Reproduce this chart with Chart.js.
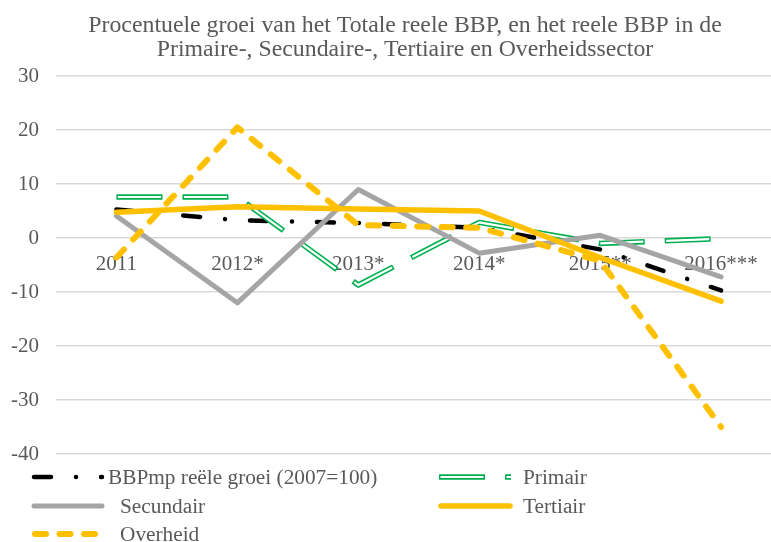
<!DOCTYPE html>
<html>
<head>
<meta charset="utf-8">
<script src="https://cdn.jsdelivr.net/npm/chart.js@4/dist/chart.umd.min.js"></script>
<style>
  html, body { margin: 0; padding: 0; background: #fff; overflow: hidden; }
  #wrap { position: relative; width: 771px; height: 542px; overflow: hidden; }
  #c { position: absolute; left: 0; top: 0; }
  .lg { position: absolute; font-family: 'Liberation Serif', 'Times New Roman', serif; font-size: 21.3px; color: #595959; line-height: 24px; white-space: nowrap; }
  svg.ls { position: absolute; overflow: visible; }
</style>
</head>
<body>
<div id="wrap">
  <canvas id="c" width="810" height="542"></canvas>
  <div id="legend"></div>
</div>
<script>
const categories = ['2011', '2012*', '2013*', '2014*', '2015**', '2016***'];
const bbp = [5.3, 3.3, 2.8, 1.9, -2.1, -9.7];
const primair = [7.6, 7.6, -8.7, 2.9, -1.0, -0.1];
const secundair = [4.1, -12.0, 9.0, -2.8, 0.5, -7.2];
const tertiair = [4.8, 5.8, 5.4, 5.0, -3.6, -11.7];
const overheid = [-3.6, 20.5, 2.4, 1.9, -4.2, -35.0];
const yTicks = [30, 20, 10, 0, -10, -20, -30, -40];
const titleLines = ['Procentuele groei van het Totale reele BBP, en het reele BBP in de', 'Primaire-, Secundaire-, Tertiaire en Overheidssector'];
const legendNames = ['BBPmp reële groei (2007=100)', 'Primair', 'Secundair', 'Tertiair', 'Overheid'];

const GOLD = '#FFC000', GREEN = '#00B050', GRAY = '#A5A5A5', TXT = '#595959';
const FONT = "'Liberation Serif', 'Times New Roman', serif";

new Chart(document.getElementById('c'), {
  type: 'line',
  data: {
    labels: categories,
    datasets: [
      { label: legendNames[0], data: bbp, borderColor: '#000', borderWidth: 4.5, borderDash: [17, 25, 0.01, 25], borderCapStyle: 'round', borderJoinStyle: 'round', order: 10 },
      { label: legendNames[1], data: primair, borderColor: GREEN, borderWidth: 5.5, borderDash: [46, 20], borderCapStyle: 'butt', borderJoinStyle: 'round', order: 9 },
      { label: legendNames[1] + ' (inner)', data: primair, borderColor: '#fff', borderWidth: 2.2, borderDash: [43, 23], borderDashOffset: -1.5, borderCapStyle: 'butt', borderJoinStyle: 'round', order: 8 },
      { label: legendNames[2], data: secundair, borderColor: GRAY, borderWidth: 5, borderCapStyle: 'round', borderJoinStyle: 'round', order: 7 },
      { label: legendNames[3], data: tertiair, borderColor: GOLD, borderWidth: 5.5, borderCapStyle: 'round', borderJoinStyle: 'round', order: 6 },
      { label: legendNames[4], data: overheid, borderColor: GOLD, borderWidth: 6, borderDash: [11, 13.5], borderCapStyle: 'round', borderJoinStyle: 'round', order: 5 }
    ]
  },
  options: {
    responsive: false,
    animation: false,
    devicePixelRatio: 1,
    layout: { padding: { left: 0, right: 0, top: 0, bottom: 88 } },
    elements: { point: { radius: 0, hoverRadius: 0 }, line: { tension: 0, fill: false } },
    plugins: {
      legend: { display: false },
      tooltip: { enabled: false },
      title: {
        display: true,
        text: titleLines,
        color: TXT,
        font: { family: FONT, size: 23.8, weight: 'normal', lineHeight: 1.01 },
        padding: { top: 13.5, bottom: 14.5 }
      }
    },
    scales: {
      x: {
        type: 'category',
        position: { y: 0 },
        offset: true,
        grid: { display: false, drawTicks: false },
        border: { display: false },
        ticks: { color: TXT, font: { family: FONT, size: 21 }, padding: 14, maxRotation: 0, autoSkip: false }
      },
      y: {
        type: 'linear',
        position: 'left',
        min: -40, max: 30,
        afterBuildTicks: s => { s.ticks = yTicks.map(v => ({ value: v })); },
        afterFit: s => { s.width = 56; },
        grid: { color: '#D9D9D9', lineWidth: 1.5, drawTicks: false },
        border: { display: false },
        ticks: { color: TXT, font: { family: FONT, size: 21 }, padding: 17 }
      },
      y2: {
        type: 'linear',
        position: 'right',
        display: true,
        afterFit: s => { s.width = 28.5; },
        grid: { display: false, drawTicks: false },
        border: { display: false },
        ticks: { display: false }
      }
    }
  }
});

// HTML legend
const lg = document.getElementById('legend');
const NS = 'http://www.w3.org/2000/svg';
function sample(x1, x2, y, strokes) {
  const svg = document.createElementNS(NS, 'svg');
  svg.setAttribute('class', 'ls');
  svg.setAttribute('width', '771'); svg.setAttribute('height', '542');
  svg.style.left = '0px'; svg.style.top = '0px';
  strokes.forEach(st => {
    const l = document.createElementNS(NS, 'line');
    l.setAttribute('x1', x1); l.setAttribute('x2', x2);
    l.setAttribute('y1', y); l.setAttribute('y2', y);
    l.setAttribute('stroke', st.c);
    l.setAttribute('stroke-width', st.w);
    l.setAttribute('stroke-linecap', st.cap || 'butt');
    if (st.dash) l.setAttribute('stroke-dasharray', st.dash);
    if (st.off !== undefined) l.setAttribute('stroke-dashoffset', st.off);
    svg.appendChild(l);
  });
  lg.appendChild(svg);
}
function text(x, y, t) {
  const d = document.createElement('div');
  d.className = 'lg';
  d.style.left = x + 'px';
  d.style.top = (y - 12) + 'px';
  d.textContent = t;
  lg.appendChild(d);
}
const r1 = 477, r2 = 506, r3 = 534;
sample(34, 102, r1, [{ c: '#000', w: 4.5, cap: 'round', dash: '17 25 0.01 25' }]);
text(108, r1, legendNames[0]);
sample(439, 511, r1, [{ c: GREEN, w: 5.5, dash: '46 20' }, { c: '#fff', w: 2.2, dash: '43 23', off: -1.5 }]);
text(523, r1, legendNames[1]);
sample(34, 102, r2, [{ c: GRAY, w: 5, cap: 'round' }]);
text(120, r2, legendNames[2]);
sample(441, 510, r2, [{ c: GOLD, w: 5.5, cap: 'round' }]);
text(523, r2, legendNames[3]);
sample(35, 101, r3, [{ c: GOLD, w: 6, cap: 'round', dash: '11 13.5' }]);
text(120, r3, legendNames[4]);
</script>
</body>
</html>
